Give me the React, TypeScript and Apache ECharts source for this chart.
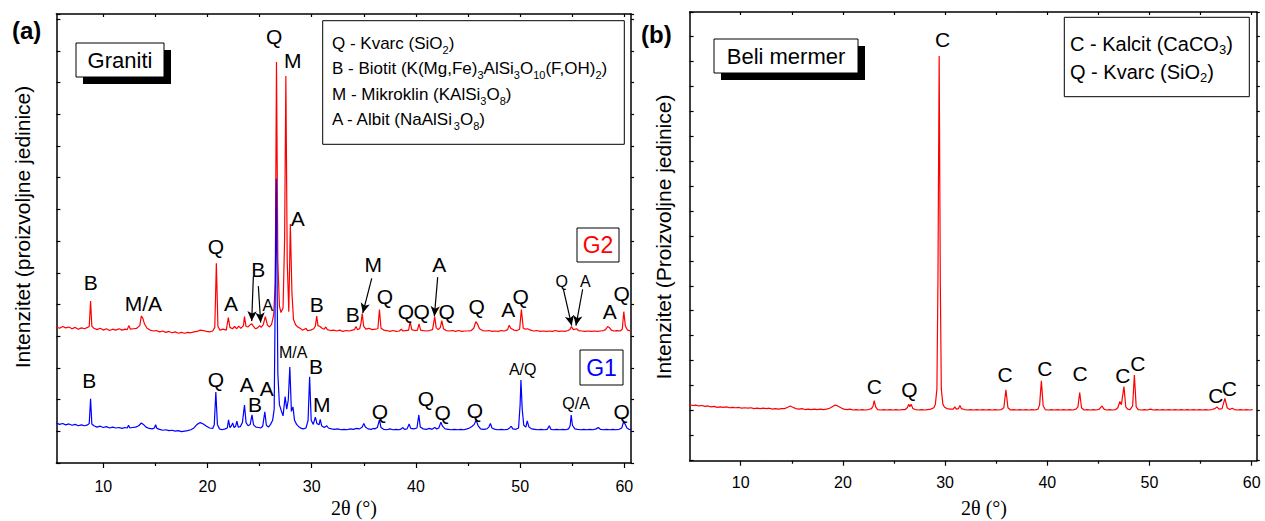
import React, { useEffect, useRef } from 'react';
import * as echarts from 'echarts';

const FONT = '"Liberation Sans", Arial, Helvetica, sans-serif';
const SERIF = '"Liberation Serif", "Times New Roman", serif';

// ---------- axis ticks ----------
const xMajorTicks = [10, 20, 30, 40, 50, 60];
const xMinorTicks = [15, 25, 35, 45, 55];
const xTopTicks = [10, 15, 20, 25, 30, 35, 40, 45, 50, 55, 60];

// ---------- (a) Graniti: G2 (red) ----------
const g2Data: [number, number][] = [
  [5.5, 30.3], [5.8, 30.0], [6.1, 30.4], [6.4, 30.1], [6.7, 30.3], [7.0, 29.9], [7.3, 30.2], [7.6, 29.8],
  [7.9, 30.1], [8.2, 29.9], [8.5, 30.2], [8.65, 30.4], [8.78, 36.1], [8.9, 30.5], [9.1, 30.0], [9.4, 29.7],
  [9.7, 30.0], [10.0, 29.6], [10.3, 29.9], [10.6, 29.5], [10.9, 29.8], [11.2, 29.6], [11.5, 29.9], [11.8, 29.6],
  [12.1, 29.8], [12.3, 29.7], [12.45, 30.6], [12.6, 29.8], [12.9, 29.9], [13.2, 30.0], [13.5, 30.6], [13.65, 32.7],
  [13.8, 32.2], [13.95, 31.0], [14.2, 30.0], [14.5, 29.6], [14.8, 29.4], [15.1, 29.5], [15.4, 29.2], [15.7, 29.4],
  [16.0, 29.1], [16.3, 29.3], [16.6, 29.0], [16.9, 29.2], [17.2, 28.9], [17.5, 29.1], [17.8, 28.9], [18.1, 29.1],
  [18.4, 29.0], [18.7, 29.2], [19.0, 29.3], [19.3, 29.6], [19.6, 29.5], [19.9, 29.3], [20.2, 29.2], [20.5, 29.4],
  [20.7, 30.2], [20.85, 44.5], [21.0, 30.4], [21.2, 29.6], [21.5, 29.8], [21.8, 29.6], [22.0, 32.4], [22.15, 30.2],
  [22.4, 29.9], [22.6, 30.4], [22.8, 29.9], [23.0, 30.5], [23.2, 30.0], [23.45, 30.6], [23.55, 32.6], [23.7, 30.4],
  [23.9, 30.3], [24.1, 30.8], [24.25, 31.0], [24.4, 30.5], [24.6, 29.9], [24.8, 30.1], [25.0, 30.6], [25.15, 30.2],
  [25.35, 30.8], [25.55, 32.6], [25.75, 30.7], [25.95, 30.3], [26.15, 30.9], [26.35, 33.0], [26.5, 40.0], [26.62, 89.3],
  [26.75, 45.0], [26.9, 35.0], [27.05, 33.5], [27.25, 34.5], [27.4, 50.0], [27.52, 86.2], [27.65, 45.0], [27.8, 33.7],
  [27.95, 53.2], [28.1, 38.0], [28.25, 32.0], [28.45, 30.8], [28.7, 30.2], [28.9, 30.0], [29.1, 29.6], [29.3, 29.8],
  [29.45, 30.0], [29.6, 29.5], [29.9, 29.6], [30.2, 29.9], [30.35, 30.5], [30.48, 32.7], [30.6, 30.6], [30.8, 30.4],
  [31.0, 30.0], [31.2, 29.8], [31.35, 30.3], [31.5, 29.7], [31.8, 29.5], [32.1, 29.6], [32.4, 29.4], [32.7, 29.6],
  [33.0, 29.3], [33.3, 29.5], [33.6, 29.4], [33.9, 29.6], [34.1, 29.7], [34.25, 30.4], [34.4, 29.7], [34.6, 29.9],
  [34.72, 31.0], [34.85, 33.3], [34.98, 30.5], [35.2, 29.8], [35.5, 30.0], [35.8, 29.7], [36.1, 29.8], [36.35, 29.9],
  [36.5, 34.2], [36.65, 30.0], [36.9, 29.6], [37.2, 29.5], [37.5, 29.3], [37.8, 29.5], [38.1, 29.3], [38.4, 29.4],
  [38.6, 29.8], [38.75, 29.4], [39.0, 29.5], [39.3, 29.6], [39.45, 31.5], [39.6, 29.7], [39.9, 29.5], [40.15, 29.6],
  [40.3, 31.0], [40.45, 29.6], [40.7, 29.5], [41.0, 29.4], [41.3, 29.5], [41.6, 29.7], [41.8, 32.6], [41.95, 30.1],
  [42.15, 29.7], [42.35, 30.2], [42.48, 31.7], [42.65, 29.9], [42.9, 29.5], [43.2, 29.4], [43.5, 29.5], [43.8, 29.3],
  [44.1, 29.5], [44.4, 29.3], [44.7, 29.4], [45.0, 29.4], [45.3, 29.5], [45.55, 30.0], [45.75, 31.5], [45.9, 31.0],
  [46.1, 29.9], [46.4, 29.5], [46.7, 29.4], [47.0, 29.5], [47.3, 29.3], [47.6, 29.4], [47.9, 29.3], [48.2, 29.5],
  [48.5, 29.4], [48.8, 29.7], [48.95, 30.7], [49.1, 30.0], [49.4, 29.6], [49.7, 29.5], [49.95, 29.8], [50.12, 34.2],
  [50.3, 30.0], [50.5, 29.8], [50.7, 29.9], [51.0, 29.6], [51.3, 29.4], [51.6, 29.5], [51.9, 29.3], [52.2, 29.4],
  [52.5, 29.3], [52.8, 29.4], [53.1, 29.3], [53.4, 29.5], [53.7, 29.3], [54.0, 29.4], [54.3, 29.3], [54.6, 29.5],
  [54.8, 29.8], [54.92, 30.4], [55.1, 29.7], [55.3, 29.8], [55.42, 29.9], [55.6, 29.5], [55.9, 29.4], [56.2, 29.3],
  [56.5, 29.4], [56.8, 29.3], [57.1, 29.4], [57.4, 29.3], [57.7, 29.4], [58.0, 29.5], [58.2, 29.7], [58.4, 30.4],
  [58.55, 30.2], [58.75, 29.6], [59.0, 29.4], [59.3, 29.5], [59.6, 29.4], [59.8, 29.8], [59.95, 33.7], [60.1, 30.5],
  [60.3, 29.6], [60.5, 29.5], [60.65, 29.4],
];

// ---------- (a) Graniti: G1 (blue) ----------
const g1Data: [number, number][] = [
  [5.5, 8.9], [5.8, 8.6], [6.1, 8.8], [6.4, 8.5], [6.7, 8.7], [7.0, 8.4], [7.3, 8.6], [7.6, 8.3],
  [7.9, 8.5], [8.2, 8.3], [8.5, 8.5], [8.65, 8.8], [8.78, 14.3], [8.9, 8.7], [9.1, 8.3], [9.4, 8.0],
  [9.7, 8.2], [10.0, 7.9], [10.3, 8.1], [10.6, 7.8], [10.9, 8.0], [11.2, 7.8], [11.5, 7.9], [11.8, 7.7],
  [12.1, 7.9], [12.3, 7.8], [12.42, 8.4], [12.55, 7.8], [12.8, 7.9], [13.1, 8.0], [13.4, 8.3], [13.65, 8.9],
  [13.85, 8.6], [14.1, 8.0], [14.4, 7.7], [14.7, 7.6], [14.9, 7.8], [15.02, 8.5], [15.15, 7.7], [15.4, 7.5],
  [15.7, 7.3], [16.0, 7.4], [16.3, 7.2], [16.6, 7.3], [16.9, 7.1], [17.2, 7.2], [17.5, 7.0], [17.8, 7.1],
  [18.1, 7.2], [18.4, 7.4], [18.7, 7.8], [19.0, 8.6], [19.3, 9.0], [19.6, 8.7], [19.9, 8.2], [20.2, 7.8],
  [20.5, 7.7], [20.65, 8.5], [20.8, 15.8], [20.95, 8.6], [21.15, 7.6], [21.4, 7.4], [21.7, 7.6], [21.9, 7.8],
  [22.02, 9.6], [22.15, 7.9], [22.3, 8.3], [22.42, 8.9], [22.55, 7.9], [22.7, 8.2], [22.82, 9.3], [22.95, 8.0],
  [23.15, 8.1], [23.35, 9.0], [23.55, 12.9], [23.7, 9.0], [23.9, 8.3], [24.1, 8.6], [24.27, 10.7], [24.42, 8.5],
  [24.65, 8.0], [24.9, 7.9], [25.1, 7.8], [25.3, 8.2], [25.5, 11.4], [25.65, 8.4], [25.85, 8.0], [26.05, 8.6],
  [26.25, 9.5], [26.4, 12.0], [26.6, 63.3], [26.75, 20.0], [26.9, 13.0], [27.1, 11.5], [27.25, 10.5], [27.45, 14.8],
  [27.6, 12.0], [27.75, 14.0], [27.9, 21.4], [28.05, 11.5], [28.2, 12.5], [28.35, 9.5], [28.55, 8.6], [28.8, 8.0],
  [29.0, 7.7], [29.2, 7.6], [29.45, 7.8], [29.65, 9.5], [29.8, 19.2], [29.95, 9.5], [30.15, 8.6], [30.35, 10.2],
  [30.5, 8.8], [30.7, 8.5], [30.82, 9.7], [30.95, 8.3], [31.2, 7.9], [31.45, 8.3], [31.6, 7.8], [31.9, 7.6],
  [32.2, 7.5], [32.5, 7.6], [32.8, 7.4], [33.1, 7.5], [33.4, 7.4], [33.7, 7.6], [34.0, 7.5], [34.3, 7.7],
  [34.6, 7.6], [34.85, 8.0], [35.0, 8.8], [35.15, 8.0], [35.4, 7.6], [35.7, 7.5], [35.9, 7.7], [36.05, 7.6],
  [36.3, 7.9], [36.5, 9.6], [36.65, 7.9], [36.9, 7.5], [37.2, 7.4], [37.5, 7.6], [37.8, 7.4], [38.1, 7.5],
  [38.4, 7.4], [38.6, 7.6], [38.75, 7.9], [38.9, 7.5], [39.15, 7.6], [39.35, 8.7], [39.5, 7.7], [39.8, 7.6],
  [40.1, 7.8], [40.28, 10.7], [40.42, 8.0], [40.7, 7.6], [41.0, 7.5], [41.3, 7.7], [41.55, 7.5], [41.8, 7.9],
  [42.0, 7.6], [42.2, 7.8], [42.4, 9.1], [42.55, 8.2], [42.8, 7.6], [43.1, 7.5], [43.4, 7.4], [43.7, 7.5],
  [44.0, 7.4], [44.3, 7.5], [44.6, 7.4], [44.9, 7.6], [45.15, 7.8], [45.4, 8.2], [45.6, 8.6], [45.78, 9.6],
  [45.95, 8.4], [46.2, 7.6], [46.5, 7.5], [46.8, 7.6], [47.0, 8.0], [47.15, 8.8], [47.3, 7.8], [47.6, 7.5],
  [47.9, 7.4], [48.2, 7.5], [48.5, 7.4], [48.8, 7.5], [49.0, 7.8], [49.15, 8.2], [49.3, 7.6], [49.6, 7.5],
  [49.85, 7.8], [50.0, 13.0], [50.08, 18.5], [50.2, 12.0], [50.35, 8.4], [50.55, 8.0], [50.68, 9.4], [50.85, 8.0],
  [51.1, 7.6], [51.4, 7.5], [51.7, 7.4], [52.0, 7.5], [52.3, 7.4], [52.6, 7.5], [52.8, 8.3], [52.95, 7.5],
  [53.2, 7.4], [53.5, 7.5], [53.8, 7.4], [54.1, 7.5], [54.4, 7.4], [54.65, 7.6], [54.8, 8.3], [54.9, 10.7],
  [55.02, 8.4], [55.25, 7.6], [55.5, 7.5], [55.8, 7.4], [56.1, 7.5], [56.4, 7.4], [56.7, 7.5], [57.0, 7.4],
  [57.3, 7.6], [57.5, 7.9], [57.7, 7.5], [58.0, 7.4], [58.3, 7.5], [58.6, 7.4], [58.9, 7.5], [59.2, 7.4],
  [59.5, 7.5], [59.75, 7.8], [59.92, 9.1], [60.05, 8.8], [60.25, 7.8], [60.45, 7.5], [60.65, 7.4],
];

// ---------- (b) Beli mermer ----------
const marbleData: [number, number][] = [
  [5.0, 12.5], [5.3, 12.3], [5.6, 12.4], [5.9, 12.2], [6.2, 12.3], [6.5, 12.1], [6.8, 12.2], [7.1, 12.0],
  [7.4, 12.1], [7.7, 11.9], [8.0, 12.0], [8.3, 11.9], [8.6, 12.0], [8.9, 11.8], [9.2, 11.9], [9.5, 11.8],
  [9.8, 11.9], [10.1, 11.7], [10.4, 11.8], [10.7, 11.7], [11.0, 11.8], [11.3, 11.6], [11.6, 11.7], [11.9, 11.6],
  [12.2, 11.7], [12.5, 11.6], [12.8, 11.7], [13.1, 11.5], [13.4, 11.6], [13.7, 11.5], [14.0, 11.6], [14.3, 11.6],
  [14.6, 11.9], [14.85, 12.2], [15.1, 11.9], [15.4, 11.6], [15.7, 11.5], [16.0, 11.6], [16.3, 11.4], [16.6, 11.5],
  [16.9, 11.4], [17.2, 11.5], [17.5, 11.4], [17.8, 11.5], [18.1, 11.4], [18.4, 11.5], [18.7, 11.7], [19.0, 12.1],
  [19.25, 12.4], [19.5, 12.2], [19.8, 11.8], [20.1, 11.5], [20.4, 11.4], [20.7, 11.5], [21.0, 11.3], [21.3, 11.4],
  [21.6, 11.3], [21.9, 11.4], [22.2, 11.3], [22.5, 11.4], [22.8, 11.6], [22.95, 12.2], [23.07, 13.4], [23.2, 12.0],
  [23.4, 11.4], [23.7, 11.3], [24.0, 11.4], [24.3, 11.3], [24.6, 11.4], [24.9, 11.3], [25.2, 11.4], [25.5, 11.3],
  [25.8, 11.4], [26.1, 11.4], [26.3, 11.8], [26.45, 12.6], [26.55, 12.0], [26.68, 12.6], [26.85, 11.6], [27.1, 11.4],
  [27.4, 11.3], [27.7, 11.4], [28.0, 11.3], [28.3, 11.4], [28.6, 11.5], [28.9, 11.8], [29.05, 12.6], [29.2, 16.0],
  [29.3, 40.0], [29.42, 90.2], [29.53, 40.0], [29.63, 16.0], [29.78, 12.6], [29.95, 11.9], [30.2, 11.6], [30.5, 11.5],
  [30.8, 11.5], [30.95, 12.0], [31.1, 11.5], [31.3, 11.6], [31.45, 12.3], [31.6, 11.6], [31.9, 11.4], [32.2, 11.3],
  [32.5, 11.4], [32.8, 11.3], [33.1, 11.4], [33.4, 11.3], [33.7, 11.4], [34.0, 11.3], [34.3, 11.4], [34.6, 11.3],
  [34.9, 11.4], [35.2, 11.3], [35.5, 11.4], [35.75, 11.8], [35.95, 15.8], [36.15, 11.8], [36.4, 11.3], [36.7, 11.4],
  [37.0, 11.3], [37.3, 11.4], [37.6, 11.3], [37.9, 11.4], [38.2, 11.3], [38.5, 11.4], [38.8, 11.3], [39.1, 11.5],
  [39.25, 12.5], [39.42, 17.8], [39.6, 12.2], [39.8, 11.4], [40.1, 11.3], [40.4, 11.4], [40.7, 11.3], [41.0, 11.4],
  [41.3, 11.3], [41.6, 11.4], [41.9, 11.3], [42.2, 11.4], [42.5, 11.3], [42.8, 11.5], [43.0, 12.0], [43.17, 15.2],
  [43.35, 11.8], [43.6, 11.3], [43.9, 11.4], [44.2, 11.3], [44.5, 11.4], [44.8, 11.3], [45.1, 11.5], [45.35, 12.2],
  [45.55, 11.5], [45.8, 11.3], [46.1, 11.4], [46.4, 11.3], [46.7, 11.4], [46.9, 11.8], [47.1, 13.2], [47.25, 12.5],
  [47.5, 16.5], [47.68, 12.0], [47.85, 11.5], [48.1, 11.4], [48.35, 12.2], [48.52, 19.1], [48.7, 12.0], [48.9, 11.4],
  [49.2, 11.3], [49.5, 11.4], [49.8, 11.3], [50.1, 11.5], [50.4, 11.3], [50.7, 11.4], [51.0, 11.3], [51.3, 11.4],
  [51.6, 11.3], [51.9, 11.4], [52.2, 11.3], [52.5, 11.4], [52.8, 11.3], [53.1, 11.4], [53.4, 11.3], [53.7, 11.4],
  [54.0, 11.3], [54.3, 11.4], [54.6, 11.3], [54.9, 11.4], [55.2, 11.3], [55.5, 11.4], [55.8, 11.3], [56.1, 11.4],
  [56.4, 11.6], [56.6, 12.0], [56.8, 11.5], [57.1, 11.6], [57.38, 13.9], [57.6, 11.8], [57.85, 11.4], [58.1, 11.7],
  [58.3, 11.4], [58.6, 11.3], [58.9, 11.4], [59.2, 11.3], [59.5, 11.4], [59.8, 11.3], [60.1, 11.4],
];

// ---------- peak annotations [2θ, level, text] ----------
const aLabels: [number, number, string][] = [
  [26.4, 94.9, 'Q'], [28.18, 89.75, 'M'], [28.66, 54.5, 'A'], [20.8, 48.3, 'Q'], [8.79, 40.2, 'B'],
  [13.84, 35.6, 'M/A'], [22.26, 35.6, 'A'], [24.88, 43.0, 'B'], [30.48, 35.2, 'B'], [33.93, 33.0, 'B'],
  [35.9, 44.1, 'M'], [42.25, 44.1, 'A'], [37.03, 37.0, 'Q'], [39.05, 33.85, 'Q'], [40.55, 33.85, 'Q'], [42.95, 33.85, 'Q'],
  [45.83, 34.8, 'Q'], [48.87, 34.1, 'A'], [50.06, 37.0, 'Q'], [58.6, 33.7, 'A'], [59.75, 37.8, 'Q'],
  [8.66, 18.3, 'B'], [20.8, 18.5, 'Q'], [23.76, 17.4, 'A'], [24.56, 13.1, 'B'], [25.68, 16.6, 'A'],
  [30.41, 21.4, 'B'], [30.96, 13.1, 'M'], [36.55, 11.4, 'Q'], [40.97, 14.4, 'Q'], [42.57, 11.3, 'Q'],
  [45.67, 11.6, 'Q'], [59.75, 11.4, 'Q'],
];
const aSmallLabels: [number, number, string][] = [
  [25.78, 35.0, 'A'], [54.0, 40.4, 'Q'], [56.25, 40.4, 'A'],
  [28.23, 24.7, 'M/A'], [50.25, 20.9, 'A/Q'], [55.37, 13.3, 'Q/A'],
];
// arrows [from 2θ, from level, to 2θ, to level]
const aArrows: [number, number, number, number][] = [
  [24.4, 41.5, 24.24, 31.6], [24.88, 39.4, 25.1, 31.3], [35.76, 41.1, 34.9, 33.4],
  [42.09, 41.4, 41.77, 32.7], [54.15, 38.7, 54.95, 30.6], [56.0, 38.7, 55.36, 30.6],
];
const bLabels: [number, number, string][] = [
  [29.76, 93.8, 'C'], [23.07, 16.5, 'C'], [26.5, 15.9, 'Q'], [35.86, 19.1, 'C'], [39.77, 20.6, 'C'],
  [43.2, 19.5, 'C'], [47.38, 18.9, 'C'], [48.85, 21.7, 'C'], [56.48, 14.5, 'C'], [57.8, 16.1, 'C'],
];

// ---------- texts ----------
const legendA: string[][] = [
  ['Q - Kvarc (SiO', '2', ')'],
  ['B - Biotit (K(Mg,Fe)', '3', 'AlSi', '3', 'O', '10', '(F,OH)', '2', ')'],
  ['M - Mikroklin (KAlSi', '3', 'O', '8', ')'],
  ['A - Albit (NaAlSi', '3', 'O', '8', ')'],
];
const legendB: string[][] = [
  ['C - Kalcit (CaCO', '3', ')'],
  ['Q - Kvarc (SiO', '2', ')'],
];
const yNameA = 'Intenzitet (proizvoljne jedinice)';
const yNameB = 'Intenzitet (Proizvoljne jedinice)';
const xName = '2θ (°)';

const toRich = (tokens: string[]) =>
  tokens.map((t, i) => (i % 2 === 0 ? `{n|${t}}` : `{s|${t}}`)).join('');

function buildAxes(g: number, min: number, max: number, yInterval: number, labelMargin: number) {
  const line = { color: '#000', width: 1.5 };
  const tick = { color: '#000', width: 1.2 };
  const xAxes = [
    {
      type: 'value', gridIndex: g, min, max, position: 'bottom',
      axisLine: { show: true, onZero: false, lineStyle: line },
      axisTick: { show: true, inside: false, length: 5, lineStyle: tick, customValues: xMajorTicks },
      axisLabel: { show: true, customValues: xMajorTicks, color: '#000', fontSize: 16, fontFamily: FONT, margin: labelMargin },
      splitLine: { show: false },
    },
    {
      type: 'value', gridIndex: g, min, max, position: 'bottom',
      axisLine: { show: false },
      axisTick: { show: true, inside: false, length: 3, lineStyle: tick, customValues: xMinorTicks },
      axisLabel: { show: false },
      splitLine: { show: false },
    },
    {
      type: 'value', gridIndex: g, min, max, position: 'top',
      axisLine: { show: true, onZero: false, lineStyle: line },
      axisTick: { show: true, inside: true, length: 3, lineStyle: tick, customValues: xTopTicks },
      axisLabel: { show: false },
      splitLine: { show: false },
    },
  ];
  const yAxes = [
    {
      type: 'value', gridIndex: g, min: 0, max: 100, interval: yInterval, position: 'left',
      axisLine: { show: true, onZero: false, lineStyle: line },
      axisTick: { show: true, inside: true, length: 4, lineStyle: tick },
      axisLabel: { show: false },
      splitLine: { show: false },
    },
    {
      type: 'value', gridIndex: g, min: 0, max: 100, interval: yInterval, position: 'right',
      axisLine: { show: true, onZero: false, lineStyle: line },
      axisTick: { show: true, inside: false, length: 3, lineStyle: tick },
      axisLabel: { show: false },
      splitLine: { show: false },
    },
  ];
  return { xAxes, yAxes };
}

function labelSeries(xi: number, yi: number, items: [number, number, string][], size: number, extra: any = {}) {
  return {
    type: 'scatter', xAxisIndex: xi, yAxisIndex: yi, symbolSize: 0, silent: true, z: 6,
    itemStyle: { color: '#000', opacity: 1 },
    data: items.map(([x, y, t]) => ({ value: [x, y], name: t })),
    label: {
      show: true, position: 'inside', formatter: '{b}', color: '#000', opacity: 1, fontSize: size, fontFamily: FONT,
      textBorderWidth: 0, textBorderColor: 'transparent',
    },
    emphasis: { disabled: true },
    ...extra,
  };
}

function boxWithShadow(x: number, y: number, w: number, h: number, text: string, size: number, shadow: boolean, color = '#000') {
  const els: any[] = [];
  if (shadow) {
    els.push({ type: 'rect', z: 10, shape: { x: x + 7, y: y + 7, width: w, height: h }, style: { fill: '#000' } });
  }
  els.push({ type: 'rect', z: 11, shape: { x, y, width: w, height: h }, style: { fill: '#fff', stroke: '#000', lineWidth: 1 } });
  els.push({
    type: 'text', z: 12, x: x + w / 2, y: y + h / 2,
    style: { text, fill: color, fontSize: size, fontFamily: FONT, align: 'center', verticalAlign: 'middle', textAlign: 'center', textVerticalAlign: 'middle' },
  });
  return els;
}

function legendLines(x: number, y0: number, step: number, lines: string[][], size: number, subSize: number) {
  return lines.map((ln, i) => ({
    type: 'text', z: 12, x, y: y0 + i * step,
    style: {
      text: toRich(ln),
      align: 'left', verticalAlign: 'middle', textAlign: 'left', textVerticalAlign: 'middle',
      rich: {
        n: { fontSize: size, fontFamily: FONT, fill: '#000', lineHeight: 24 },
        s: { fontSize: subSize, fontFamily: FONT, fill: '#000', lineHeight: 12, verticalAlign: 'bottom' },
      },
    },
  }));
}

export default function App() {
  const ref = useRef<HTMLDivElement>(null);

  useEffect(() => {
    if (!ref.current) return;
    const chart = echarts.init(ref.current, undefined, { renderer: 'svg' });

    const A = buildAxes(0, 5.5, 60.65, 7.06, 15);
    const B = buildAxes(1, 5, 60.5, 5.57, 14);

    const option: any = {
      animation: false,
      backgroundColor: '#fff',
      grid: [
        { left: 56.4, top: 14, width: 574.7, height: 449, show: false },
        { left: 689.6, top: 12, width: 567.2, height: 448.7, show: false },
      ],
      xAxis: [...A.xAxes, ...B.xAxes],
      yAxis: [...A.yAxes, ...B.yAxes],
      series: [
        {
          type: 'line', name: 'G2', xAxisIndex: 0, yAxisIndex: 0, data: g2Data, symbol: 'none', showSymbol: false,
          silent: true, z: 3, lineStyle: { color: '#ff0000', width: 1.2 }, itemStyle: { color: '#ff0000' },
        },
        {
          type: 'line', name: 'G1', xAxisIndex: 0, yAxisIndex: 0, data: g1Data, symbol: 'none', showSymbol: false,
          silent: true, z: 4, lineStyle: { color: '#0000ff', width: 1.2 }, itemStyle: { color: '#0000ff' },
        },
        labelSeries(0, 0, aLabels, 21),
        labelSeries(0, 0, aSmallLabels, 16, {
          markLine: {
            silent: true, animation: false, symbol: ['none', 'arrow'], symbolSize: [7, 10],
            label: { show: false }, emphasis: { disabled: true },
            lineStyle: { color: '#000', width: 1.2, type: 'solid', opacity: 1 },
            itemStyle: { color: '#000', opacity: 1 },
            data: aArrows.map(([x1, y1, x2, y2]) => [{ coord: [x1, y1] }, { coord: [x2, y2] }]),
          },
        }),
        {
          type: 'line', name: 'Beli mermer', xAxisIndex: 3, yAxisIndex: 2, data: marbleData, symbol: 'none', showSymbol: false,
          silent: true, z: 3, lineStyle: { color: '#ff0000', width: 1.2 }, itemStyle: { color: '#ff0000' },
        },
        labelSeries(3, 2, bLabels, 21),
      ],
      graphic: [
        // panel letters
        { type: 'text', x: 12, y: 30, style: { text: '(a)', fill: '#000', fontSize: 24, fontWeight: 'bold', fontFamily: FONT, align: 'left', verticalAlign: 'middle', textAlign: 'left', textVerticalAlign: 'middle' } },
        { type: 'text', x: 641, y: 34, style: { text: '(b)', fill: '#000', fontSize: 24, fontWeight: 'bold', fontFamily: FONT, align: 'left', verticalAlign: 'middle', textAlign: 'left', textVerticalAlign: 'middle' } },
        // y-axis names
        { type: 'text', x: 22, y: 227, rotation: Math.PI / 2, style: { text: yNameA, fill: '#000', fontSize: 21, fontFamily: FONT, align: 'center', verticalAlign: 'middle', textAlign: 'center', textVerticalAlign: 'middle' } },
        { type: 'text', x: 663, y: 237, rotation: Math.PI / 2, style: { text: yNameB, fill: '#000', fontSize: 21, fontFamily: FONT, align: 'center', verticalAlign: 'middle', textAlign: 'center', textVerticalAlign: 'middle' } },
        // x-axis names
        { type: 'text', x: 354, y: 508, style: { text: xName, fill: '#000', fontSize: 20, fontFamily: SERIF, align: 'center', verticalAlign: 'middle', textAlign: 'center', textVerticalAlign: 'middle' } },
        { type: 'text', x: 984, y: 508, style: { text: xName, fill: '#000', fontSize: 20, fontFamily: SERIF, align: 'center', verticalAlign: 'middle', textAlign: 'center', textVerticalAlign: 'middle' } },
        // sample name boxes
        ...boxWithShadow(76, 43, 88, 34, 'Graniti', 22, true),
        ...boxWithShadow(714, 39, 144, 34, 'Beli mermer', 22, true),
        ...boxWithShadow(577, 228, 42, 34, 'G2', 23, false, '#ff0000'),
        ...boxWithShadow(580, 350, 43, 35, 'G1', 23, false, '#0000ff'),
        // legend boxes
        { type: 'rect', z: 11, shape: { x: 322.7, y: 20.7, width: 301.6, height: 123.6 }, style: { fill: '#fff', stroke: '#000', lineWidth: 1 } },
        ...legendLines(332, 43.5, 25.3, legendA, 17, 11),
        { type: 'rect', z: 11, shape: { x: 1064.3, y: 17.3, width: 185, height: 79.4 }, style: { fill: '#fff', stroke: '#000', lineWidth: 1 } },
        ...legendLines(1070, 43.5, 28.5, legendB, 20, 13),
      ],
    };

    chart.setOption(option);
    return () => chart.dispose();
  }, []);

  return (
    <div
      ref={ref}
      style={{ position: 'fixed', left: 0, top: 0, width: 1265, height: 521, background: '#fff' }}
    />
  );
}
